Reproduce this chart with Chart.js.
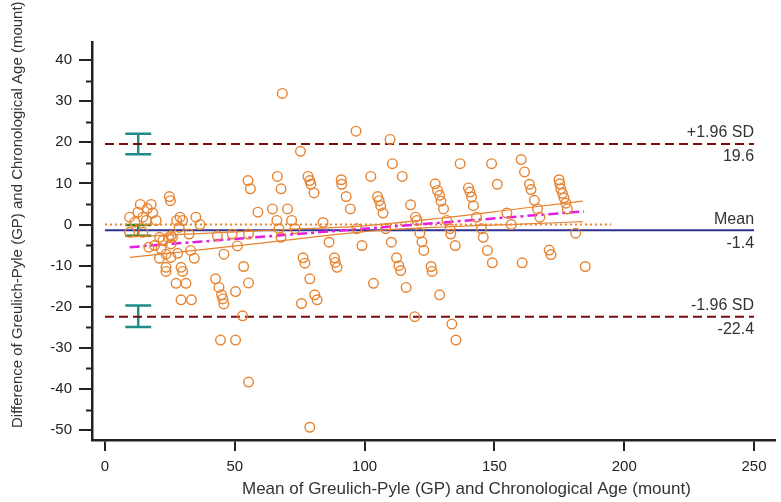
<!DOCTYPE html>
<html>
<head>
<meta charset="utf-8">
<script src="https://cdn.jsdelivr.net/npm/chart.js@4/dist/chart.umd.min.js"></script>
<style>
  html, body { margin: 0; padding: 0; background: #fff; }
  canvas { display: block; }
</style>
</head>
<body>
<canvas id="chart" width="781" height="502"></canvas>
<script>
// mean of GP and chronological age (x) / difference (y)
const pointMeans = [
  13.6, 17.8, 16.3, 12.7, 9.5, 14.6, 18.4, 19.7, 15.9, 11.5,
  24.8, 25.2, 28.9, 29.9, 27.6, 35.0, 36.6, 28.6, 24.5, 22.3,
  25.4, 16.9, 19.1, 21.6, 23.5, 25.4, 21.0, 34.4, 25.4, 28.0,
  33.0, 23.5, 23.5, 29.3, 29.9, 27.4, 31.2, 29.3, 33.3, 9.5,
  14.6, 21.0, 26.0, 32.4, 42.6, 43.9, 44.9, 45.4, 45.8, 53.4,
  55.3, 50.3, 53.0, 44.5, 50.3, 55.3, 43.3, 49.0, 55.3, 51.0,
  45.8, 55.1, 56.0, 58.9,
  68.3, 96.7, 109.8, 75.3, 110.7, 114.5, 66.4, 67.8, 78.2, 78.9,
  79.3, 80.5, 91.0, 91.2, 92.9, 94.5, 102.4, 105.0, 105.6, 106.2,
  107.1, 117.7, 119.6, 64.5, 70.3, 66.2, 71.9, 84.0, 67.0, 67.8,
  73.2, 97.0, 108.1, 86.3, 99.0, 110.3, 121.3, 122.1, 122.8, 76.3,
  88.4, 112.3, 77.0, 88.7, 89.4, 113.2, 113.9, 78.9, 80.8, 81.7,
  75.7, 103.4, 116.0, 119.3, 78.9,
  136.8, 148.9, 160.3, 161.6, 151.1, 163.5, 164.1, 127.2, 128.1, 128.9,
  129.4, 130.4, 140.0, 140.6, 141.2, 141.9, 174.9, 175.2, 175.6, 176.2,
  176.8, 177.5, 178.1, 165.4, 166.6, 167.5, 154.8, 143.1, 145.0, 145.7,
  156.5, 131.7, 132.9, 133.2, 120.2, 134.9, 147.3, 171.1, 171.8, 181.3,
  125.6, 126.0, 149.2, 160.7, 185.0, 128.9, 133.6, 135.2
];
const pointDiffs = [
  4.9, 4.9, 3.9, 3.0, 1.8, 1.8, 2.8, 1.0, 1.0, 0.6,
  6.8, 5.8, 1.8, 1.0, 1.0, 1.8, 0.0, -0.7, -3.2, -3.9,
  -2.7, -5.5, -5.1, -5.9, -7.2, -8.0, -8.2, -8.2, -4.7, -7.0,
  -6.3, -10.4, -11.4, -10.4, -11.4, -14.3, -14.3, -18.3, -18.3, -1.9,
  -1.9, -3.1, -3.1, -2.3, -13.2, -15.3, -17.1, -18.1, -19.3, -10.2,
  -14.2, -16.3, -22.2, -28.1, -28.1, -38.3, -2.7, -2.3, -2.3, -5.2,
  -7.2, 10.7, 8.7, 3.0,
  31.9, 22.7, 20.7, 17.8, 14.8, 11.7, 11.7, 8.7, 11.7, 10.7,
  9.8, 7.7, 10.9, 9.8, 6.8, 3.8, 11.7, 6.8, 5.8, 4.6,
  2.8, 4.8, 1.8, 3.8, 3.8, 1.0, 1.0, 0.5, -1.0, -3.1,
  -1.0, -1.0, -1.0, -4.3, -5.1, -4.3, -2.1, -4.2, -6.3, -8.1,
  -8.1, -8.1, -9.4, -9.2, -10.4, -10.0, -11.2, -13.2, -17.1, -18.3,
  -19.2, -14.3, -15.3, -22.4, -49.3,
  14.8, 14.8, 15.8, 12.8, 9.8, 9.8, 8.5, 9.9, 8.3, 7.1,
  5.7, 3.8, 8.9, 7.9, 6.7, 4.6, 10.9, 9.9, 8.7, 7.6,
  6.5, 5.2, 3.8, 5.9, 3.8, 1.8, 2.8, 1.8, -1.0, -3.1,
  0.0, 1.0, -1.0, -2.3, 1.0, -5.1, -6.3, -6.2, -7.3, -2.1,
  -10.2, -11.4, -9.3, -9.3, -10.2, -17.1, -24.2, -28.1
];

// limits of agreement
const limitNames = ["+1.96 SD", "Mean", "-1.96 SD"];
const limitValues = [19.6, -1.4, -22.4];
const limitSpan = [0, 250];

// confidence intervals of the limits (drawn as error bars)
const ciX = 12.8;
const ciHalfCap = 5;
const ciUpper = [17.1, 22.1];
const ciMean = [-2.7, -0.1];
const ciLower = [-24.9, -19.7];

// line of equality
const equalitySpan = [0, 195];
const equalityValue = 0;

// regression line and its confidence band
const regX = [9.5, 184.5];
const regY = [-5.5, 3.2];
const bandX = [9.5, 40, 70, 100, 130, 160, 184];
const bandUpper = [-3.0, -2.1, -1.2, -0.3, 1.6, 3.9, 5.7];
const bandLower = [-8.0, -5.9, -3.8, -1.7, -0.6, 0.1, 0.7];

const xTicks = [0, 50, 100, 150, 200, 250];
const yMinorTicks = [-45, -35, -25, -15, -5, 5, 15, 25, 35];

const xTitle = "Mean of Greulich-Pyle (GP) and Chronological Age (mount)";
const yTitle = "Difference of Greulich-Pyle (GP) and Chronological Age (mount)";

const ORANGE = "#e8832f";
const DARKRED = "#7a0c0c";
const NAVY = "#2d3190";
const TEAL = "#1f8c8a";
const GREEN = "#2a8a2a";
const MAGENTA = "#e21fe0";
const INK = "#222";
const FONT = "'Liberation Sans', Arial, sans-serif";

const xy = (xs, ys) => xs.map((x, i) => ({x, y: ys[i]}));
const errorBar = ([lo, hi]) => [
  {x: ciX - ciHalfCap, y: hi}, {x: ciX + ciHalfCap, y: hi}, {x: ciX, y: hi},
  {x: ciX, y: lo}, {x: ciX - ciHalfCap, y: lo}, {x: ciX + ciHalfCap, y: lo},
];
const lineSet = (data, color, width, dash, order) => ({
  type: "line",
  data,
  borderColor: color,
  borderWidth: width,
  borderDash: dash,
  pointRadius: 0,
  fill: false,
  tension: 0,
  order,
});

const labelsPlugin = {
  id: "blandAltmanText",
  afterDraw(chart) {
    const {ctx, scales: {x, y}} = chart;
    ctx.save();
    // minor ticks on the y axis
    ctx.strokeStyle = INK;
    ctx.lineWidth = 2;
    yMinorTicks.forEach(v => {
      const py = Math.round(y.getPixelForValue(v)) + 0.5;
      ctx.beginPath();
      ctx.moveTo(y.right - 6, py);
      ctx.lineTo(y.right, py);
      ctx.stroke();
    });
    // limit names and values
    ctx.fillStyle = "#333";
    ctx.font = "16px " + FONT;
    ctx.textAlign = "right";
    ctx.textBaseline = "middle";
    const rx = x.getPixelForValue(limitSpan[1]);
    limitValues.forEach((v, i) => {
      const py = y.getPixelForValue(v);
      ctx.fillText(limitNames[i], rx, py - 11);
      ctx.fillText(v.toFixed(1), rx, py + 13);
    });
    // axis titles
    ctx.fillStyle = "#333";
    ctx.font = "17px " + FONT;
    ctx.textAlign = "left";
    ctx.fillText(xTitle, 242, 489);
    ctx.translate(18, 428);
    ctx.rotate(-Math.PI / 2);
    ctx.font = "15px " + FONT;
    ctx.fillText(yTitle, 0, 0);
    ctx.restore();
  },
};

const datasets = [
  {
    type: "scatter",
    data: xy(pointMeans, pointDiffs),
    pointStyle: "circle",
    pointRadius: 4.8,
    pointBorderWidth: 1.4,
    borderColor: ORANGE,
    backgroundColor: "rgba(0,0,0,0)",
    order: 0,
  },
  lineSet(xy(regX, regY), MAGENTA, 2.5, [10, 4, 3, 4], 1),
  {...lineSet(xy(bandX, bandUpper), ORANGE, 1.2, [], 2), cubicInterpolationMode: "monotone"},
  {...lineSet(xy(bandX, bandLower), ORANGE, 1.2, [], 2), cubicInterpolationMode: "monotone"},
  lineSet(xy(equalitySpan, [equalityValue, equalityValue]), ORANGE, 2, [2, 3], 3),
  lineSet(xy(limitSpan, [limitValues[0], limitValues[0]]), DARKRED, 2, [9, 5], 4),
  lineSet(xy(limitSpan, [limitValues[1], limitValues[1]]), NAVY, 2, [], 4),
  lineSet(xy(limitSpan, [limitValues[2], limitValues[2]]), DARKRED, 2, [9, 5], 4),
  lineSet(errorBar(ciUpper), TEAL, 2.5, [], 5),
  lineSet(errorBar(ciMean), GREEN, 2.5, [], 5),
  lineSet(errorBar(ciLower), TEAL, 2.5, [], 5),
];

new Chart(document.getElementById("chart"), {
  type: "scatter",
  data: {datasets},
  options: {
    responsive: false,
    animation: false,
    devicePixelRatio: 1,
    layout: {padding: {top: 42, right: 0, bottom: 0, left: 0}},
    plugins: {legend: {display: false}, tooltip: {enabled: false}},
    scales: {
      x: {
        type: "linear",
        min: -5,
        max: 258,
        afterBuildTicks: s => { s.ticks = xTicks.map(v => ({value: v})); },
        afterFit: s => { s.height = 62; },
        ticks: {color: INK, font: {size: 15, family: FONT}, padding: 7, maxRotation: 0},
        grid: {drawOnChartArea: false, drawTicks: true, tickLength: 11, color: INK, lineWidth: 2},
        border: {display: true, color: INK, width: 2.5},
        title: {display: false},
      },
      y: {
        type: "linear",
        min: -52.4,
        max: 44.4,
        ticks: {stepSize: 10, includeBounds: false, color: INK, font: {size: 15, family: FONT}, padding: 7},
        afterFit: s => { s.width = 92; },
        grid: {drawOnChartArea: false, drawTicks: true, tickLength: 13, color: INK, lineWidth: 2},
        border: {display: true, color: INK, width: 2.5},
        title: {display: false},
      },
    },
  },
  plugins: [labelsPlugin],
});
</script>
</body>
</html>
